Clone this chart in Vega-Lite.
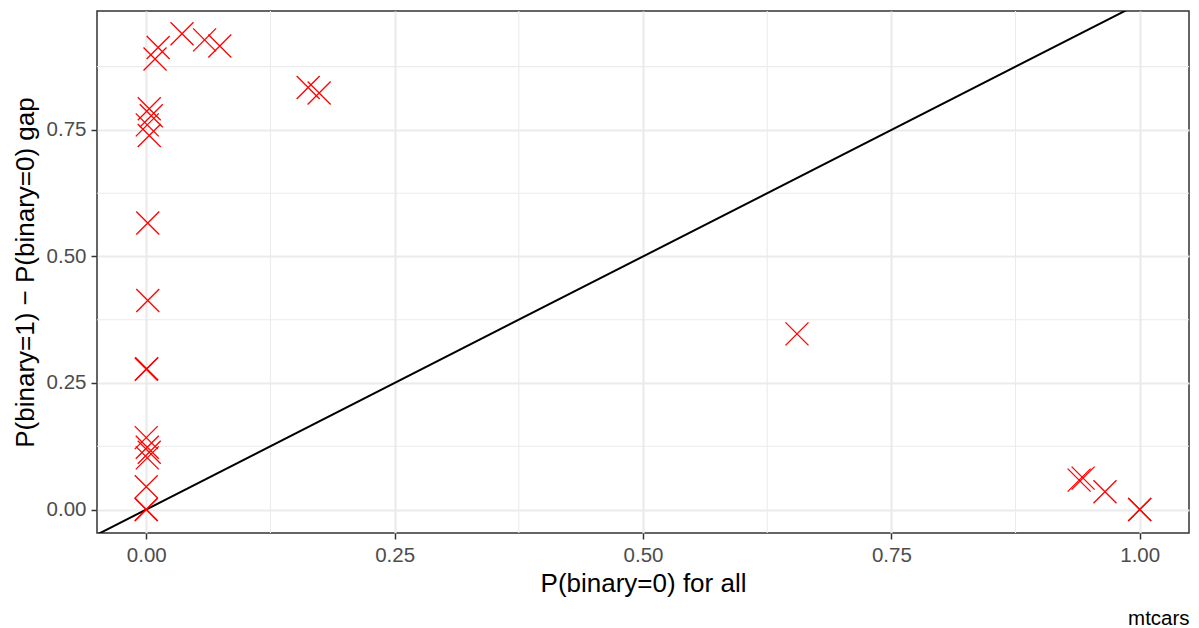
{
  "$schema": "https://vega.github.io/schema/vega-lite/v6.json",
  "autosize": "none",
  "width": 1092,
  "height": 522,
  "padding": {"left": 97, "top": 11, "right": 10, "bottom": 95},
  "background": "white",
  "config": {
    "font": "Liberation Sans",
    "view": {"stroke": "#333333", "strokeWidth": 1.5},
    "axis": {
      "labelFont": "Liberation Sans",
      "titleFont": "Liberation Sans",
      "labelFontSize": 20.5,
      "labelColor": "#4D4D4D",
      "titleFontSize": 26,
      "titleFontWeight": "normal",
      "titleColor": "black",
      "tickColor": "#333333",
      "tickSize": 6,
      "tickWidth": 1.5,
      "domain": false,
      "gridColor": "#EBEBEB",
      "gridWidth": 2.2
    }
  },
  "title": {
    "text": "mtcars",
    "orient": "bottom",
    "anchor": "end",
    "fontSize": 20.5,
    "fontWeight": "normal",
    "color": "black",
    "font": "Liberation Sans",
    "offset": 12
  },
  "datasets": {
    "pts": [
      {"p0": 0.0015, "gap": 0.413},
      {"p0": 0.0, "gap": 0.277},
      {"p0": 0.0005, "gap": 0.278},
      {"p0": 0.0, "gap": 0.142},
      {"p0": 0.001, "gap": 0.123},
      {"p0": 0.003, "gap": 0.113},
      {"p0": 0.001, "gap": 0.102},
      {"p0": 0.0, "gap": 0.045},
      {"p0": 0.0, "gap": 0.0},
      {"p0": 0.0, "gap": 0.0},
      {"p0": 0.0015, "gap": 0.566},
      {"p0": 0.003, "gap": 0.792},
      {"p0": 0.005, "gap": 0.778},
      {"p0": 0.001, "gap": 0.76},
      {"p0": 0.003, "gap": 0.739},
      {"p0": 0.012, "gap": 0.913},
      {"p0": 0.0088, "gap": 0.89},
      {"p0": 0.036, "gap": 0.94},
      {"p0": 0.0587, "gap": 0.928},
      {"p0": 0.074, "gap": 0.916},
      {"p0": 0.163, "gap": 0.834},
      {"p0": 0.174, "gap": 0.823},
      {"p0": 0.655, "gap": 0.347},
      {"p0": 0.939, "gap": 0.058},
      {"p0": 0.943, "gap": 0.062},
      {"p0": 0.965, "gap": 0.035},
      {"p0": 1.0, "gap": 0.0},
      {"p0": 1.0, "gap": 0.0}
    ],
    "minor": [{"v": 0.125}, {"v": 0.375}, {"v": 0.625}, {"v": 0.875}],
    "diag": [{"xa": -0.1, "ya": -0.1, "xb": 1.1, "yb": 1.1}]
  },
  "layer": [
    {
      "data": {"name": "minor"},
      "mark": {"type": "rule", "color": "#EBEBEB", "strokeWidth": 1.1},
      "encoding": {
        "x": {"field": "v", "type": "quantitative", "scale": {"domain": [-0.0496, 1.0496], "nice": false, "zero": false}, "axis": {"values": [0, 0.25, 0.5, 0.75, 1], "format": ".2f", "title": "P(binary=0) for all", "labelPadding": 6, "titlePadding": 5}}
      }
    },
    {
      "data": {"name": "minor"},
      "mark": {"type": "rule", "color": "#EBEBEB", "strokeWidth": 1.1},
      "encoding": {
        "y": {"field": "v", "type": "quantitative", "scale": {"domain": [-0.0464, 0.985], "nice": false, "zero": false}, "axis": {"values": [0, 0.25, 0.5, 0.75], "format": ".2f", "title": "P(binary=1) − P(binary=0) gap", "labelPadding": 5, "titlePadding": 8}}
      }
    },
    {
      "data": {"name": "diag"},
      "mark": {"type": "rule", "color": "black", "strokeWidth": 2, "clip": true},
      "encoding": {
        "x": {"field": "xa", "type": "quantitative"},
        "y": {"field": "ya", "type": "quantitative"},
        "x2": {"field": "xb"},
        "y2": {"field": "yb"}
      }
    },
    {
      "data": {"name": "pts"},
      "mark": {"type": "point", "shape": "M-1,-1L1,1M-1,1L1,-1", "size": 529, "filled": false, "stroke": "red", "strokeWidth": 1.3, "opacity": 1},
      "encoding": {
        "x": {"field": "p0", "type": "quantitative"},
        "y": {"field": "gap", "type": "quantitative"}
      }
    }
  ]
}
